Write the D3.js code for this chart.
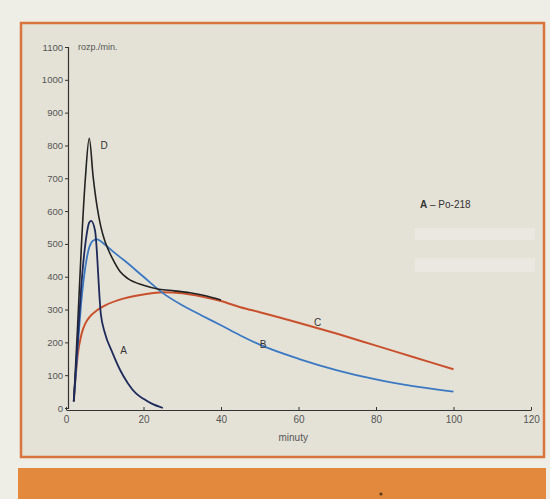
<!DOCTYPE html>
<html><head><meta charset="utf-8">
<script src="https://cdn.jsdelivr.net/npm/d3@7/dist/d3.min.js"></script>
<style>html,body{margin:0;padding:0;background:#eeede6;}svg{display:block;}</style>
</head><body>
<script>
// Data (minutes, counts per minute)
const timesA = [2,3,4,5,6,6.5,7.5,9,10,12,14,16,18,20,22,25];
const valuesA = [20,200,380,500,565,570,540,285,230,168,115,75,45,28,14,0];
const timesB = [2,3,4,5,6,7,8,10,12,15,20,25,30,35,40,45,50,60,70,80,90,100];
const valuesB = [20,180,330,430,490,510,514,498,478,450,400,350,313,282,252,221,193,150,115,87,66,50];
const timesC = [2,3,4,5,6,8,10,15,20,25,30,35,40,45,50,60,70,80,90,100];
const valuesC = [20,160,225,258,276,298,312,334,346,353,350,340,326,307,292,260,226,190,154,118];
const timesD = [2,3,4,5,6,7,8,9,10,11,12,14,16,20,24,28,32,36,40];
const valuesD = [20,250,500,700,822,705,615,552,510,480,455,415,394,374,362,357,351,342,329];
const yTicks = [0,100,200,300,400,500,600,700,800,900,1000,1100];
const xTicks = [0,20,40,60,80,100,120];
const seriesNames = ["A","B","C","D"];
const legendText = "Po-218";

const W = 550, H = 499;
const svg = d3.select("body").append("svg").attr("width", W).attr("height", H);

// page background & frame
svg.append("rect").attr("x",0).attr("y",0).attr("width",W).attr("height",H).attr("fill","#eeede6");
svg.append("rect").attr("x",21).attr("y",23).attr("width",523).attr("height",434)
  .attr("fill","#e4e2d7").attr("stroke","#d8743c").attr("stroke-width",2.5);
svg.append("rect").attr("x",18).attr("y",468).attr("width",528).attr("height",31).attr("fill","#e2893e");
svg.append("circle").attr("cx",381).attr("cy",494).attr("r",1.6).attr("fill","#5a3a20");
// faint whiter patches on right
svg.append("rect").attr("x",415).attr("y",228).attr("width",120).attr("height",12).attr("fill","#ecebe5").attr("opacity",0.7);
svg.append("rect").attr("x",415).attr("y",258).attr("width",120).attr("height",14).attr("fill","#ecebe5").attr("opacity",0.7);

const x = d3.scaleLinear().domain([0,120]).range([66,531]);
const y = d3.scaleLinear().domain([0,1100]).range([408,47]);

const tickColor = "#555";
const fam = "Liberation Sans, Arial, sans-serif";
// y axis
const yAxis = svg.append("g").attr("transform", `translate(${x(0)+2},0)`)
  .call(d3.axisLeft(y).tickValues(yTicks).tickFormat(d3.format("d")).tickSize(3).tickPadding(2));
yAxis.select(".domain").attr("stroke","#333").attr("stroke-width",1.2);
yAxis.selectAll(".tick line").attr("stroke","#333");
yAxis.selectAll("text").attr("fill",tickColor).style("font-family",fam).style("font-size","9.5px");

// x axis
const xAxis = svg.append("g").attr("transform", `translate(0,${y(0)+2})`)
  .call(d3.axisBottom(x).tickValues(xTicks).tickFormat(d3.format("d")).tickSizeInner(-3).tickSizeOuter(0).tickPadding(6));
xAxis.select(".domain").attr("stroke","#333").attr("stroke-width",1.2);
xAxis.selectAll(".tick line").attr("stroke","#333");
xAxis.selectAll("text").attr("fill",tickColor).style("font-family",fam).style("font-size","10px");

svg.append("text").attr("x",78).attr("y",50).text("rozp./min.")
  .attr("fill",tickColor).style("font-family",fam).style("font-size","9px");
svg.append("text").attr("x",x(60)-20).attr("y",441).text("minuty")
  .attr("fill",tickColor).style("font-family",fam).style("font-size","10px");

const line = d3.line().x(d=>x(d[0])).y(d=>y(d[1])).curve(d3.curveMonotoneX);
const zip = (a,b)=>a.map((t,i)=>[t,b[i]]);

const series = [
  {name:"C", data:zip(timesC,valuesC), color:"#c9502c", w:2},
  {name:"B", data:zip(timesB,valuesB), color:"#3b78c2", w:1.8},
  {name:"D", data:zip(timesD,valuesD), color:"#222222", w:1.6},
  {name:"A", data:zip(timesA,valuesA), color:"#1e2a5a", w:1.8}
];
series.forEach(s=>{
  svg.append("path").attr("d",line(s.data)).attr("fill","none")
    .attr("stroke",s.color).attr("stroke-width",s.w).attr("stroke-linejoin","round");
});

const lblStyle = sel => sel.attr("fill","#333").style("font-family",fam).style("font-size","10px");
const labels = {D:[8.9,790], A:[14,165], B:[50,183], C:[64,250]};
seriesNames.forEach(n=>{
  svg.append("text").attr("x",x(labels[n][0])).attr("y",y(labels[n][1])).text(n).call(lblStyle);
});

const lg = svg.append("text").attr("x",420).attr("y",208).call(lblStyle);
lg.append("tspan").text("A").style("font-weight","bold");
lg.append("tspan").text(" – " + legendText);
</script>
</body></html>
